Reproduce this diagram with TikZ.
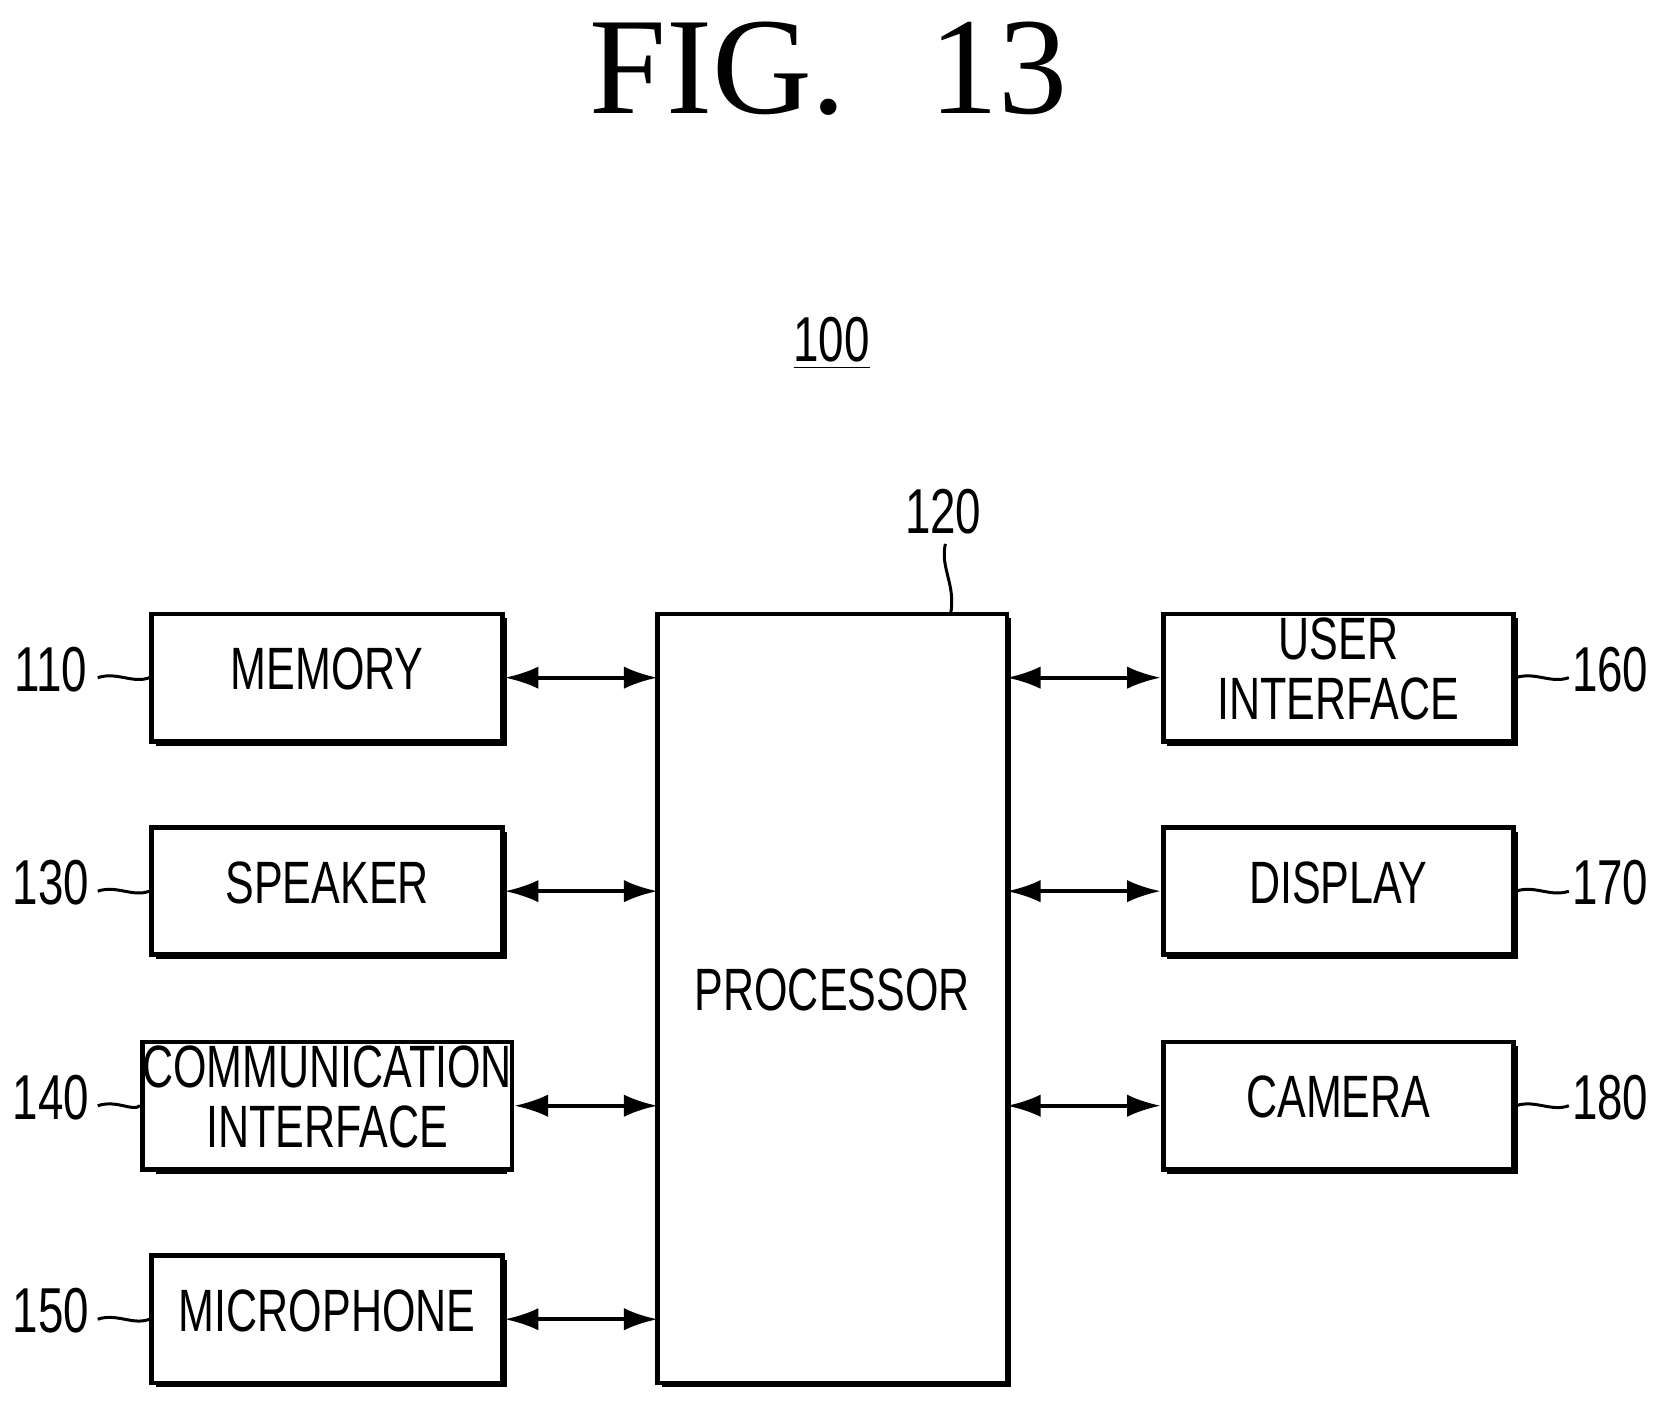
\documentclass[tikz,border=0pt]{standalone}
\usepackage{fontspec}
\setmainfont{Liberation Serif}
\setsansfont{Liberation Sans}
\usetikzlibrary{arrows.meta}
\newcommand{\nx}[1]{\scalebox{0.72}[1]{\begin{tabular}{@{}c@{}}#1\end{tabular}}}
\tikzset{x=0.01cm,y=-0.01cm,
 blk/.style={draw,line width=1.3pt,fill=white,minimum width=330*0.01cm,minimum height=120*0.01cm,inner sep=0pt,font=\sffamily\fontsize{16}{16}\selectfont},
 arr/.style={line width=1pt,{Latex[length=9pt,width=6pt]}-{Latex[length=9pt,width=6pt]}},
 lbl/.style={font=\sffamily\fontsize{17}{18}\selectfont},
 sq/.style={line width=0.8pt}}
\begin{document}
\begin{tikzpicture}
\useasboundingbox (0,0) rectangle (1560,1319);
\node (fig) at (780,65) {\fontsize{37}{40}\selectfont FIG.\hspace{0.6em}13};
\node[lbl] (n100) at (783,328) {\nx{\underline{100}}};
% left boxes
\foreach \n/\y/\t/\r in {mem/638/MEMORY/110, spk/839/SPEAKER/130, com/1041/{COMMUNICATION\\INTERFACE}/140, mic/1242/MICROPHONE/150}{
 \fill (308,\y) ++(-165+4,-60+4) rectangle ++(330,120);
 \node[blk] (\n) at (308,\y) {\nx{\t}};
 \node[lbl] (l\n) at (48,\y) {\nx{\r}};
 \draw[sq] (92,\y) .. controls (110,\y-6) and (125,\y+6) .. (\n.west);
 \draw[arr] (\n.east) -- (619,\y);
}
\foreach \n/\y/\t/\r in {ui/638/{USER\\INTERFACE}/160, dsp/839/DISPLAY/170, cam/1041/CAMERA/180}{
 \fill (1260,\y) ++(-165+4,-60+4) rectangle ++(330,120);
 \node[blk] (\n) at (1260,\y) {\nx{\t}};
 \node[lbl] (l\n) at (1516,\y) {\nx{\r}};
 \draw[sq] (\n.east) .. controls (1445,\y-6) and (1460,\y+6) .. (1477,\y);
 \draw[arr] (948,\y) -- (\n.west);
}
\fill (619+4,578+4) rectangle (948+4,1302+4);
\node[blk,minimum width=329*0.01cm,minimum height=724*0.01cm] (proc) at (783.5,940) {\nx{PROCESSOR}};
\node[lbl] (l120) at (888,490) {\nx{120}};
\draw[sq] (890,512) .. controls (885,535) and (900,550) .. (895,578);
\end{tikzpicture}
\end{document}
